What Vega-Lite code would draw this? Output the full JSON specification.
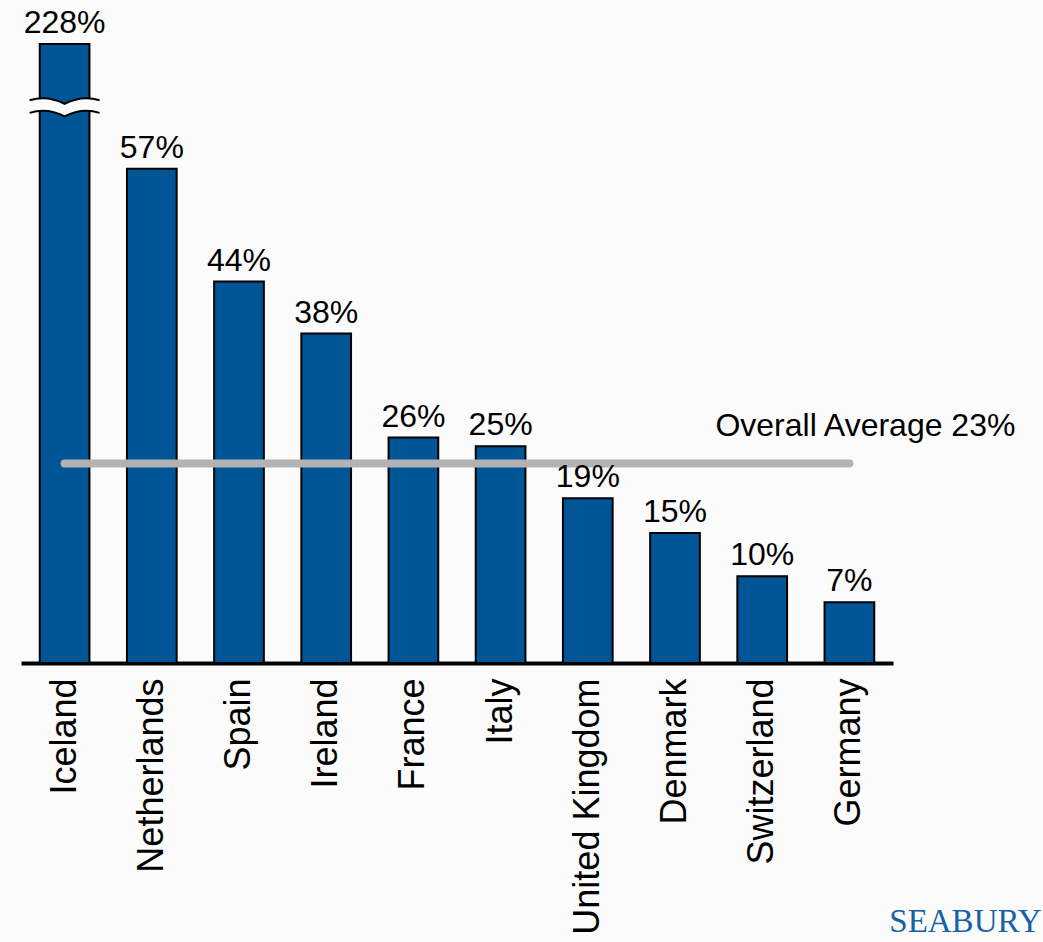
{
  "$schema": "https://vega.github.io/schema/vega-lite/v6.json",
  "width": 872,
  "height": 619,
  "autosize": "none",
  "padding": {"left": 21, "top": 44, "right": 150, "bottom": 279},
  "background": "#fbfbfb",
  "config": {
    "view": {"stroke": null},
    "font": "Liberation Sans"
  },
  "datasets": {
    "main": [
      {"country": "Iceland", "value": 2.28},
      {"country": "Netherlands", "value": 0.57},
      {"country": "Spain", "value": 0.44},
      {"country": "Ireland", "value": 0.38},
      {"country": "France", "value": 0.26},
      {"country": "Italy", "value": 0.25},
      {"country": "United Kingdom", "value": 0.19},
      {"country": "Denmark", "value": 0.15},
      {"country": "Switzerland", "value": 0.10},
      {"country": "Germany", "value": 0.07}
    ],
    "average": [
      {"country": "Iceland", "avg": 0.23, "label": "Overall Average 23%"},
      {"country": "Germany", "avg": 0.23, "label": "Overall Average 23%"}
    ],
    "brk": [
      {"country": "Iceland", "breakAt": 0.641}
    ]
  },
  "encoding": {
    "x": {
      "field": "country",
      "type": "nominal",
      "sort": null,
      "scale": {
        "domain": ["Iceland", "Netherlands", "Spain", "Ireland", "France", "Italy", "United Kingdom", "Denmark", "Switzerland", "Germany"],
        "paddingInner": 0.43,
        "paddingOuter": 0.215
      },
      "axis": {
        "title": "SEABURY",
        "titleFont": "Liberation Serif",
        "titleFontSize": 33,
        "titleFontWeight": "normal",
        "titleColor": "#1560a8",
        "titleAlign": "right",
        "titleAnchor": null,
        "titleBaseline": "top",
        "titleX": 1020,
        "titleY": 242,
        "labelAngle": -90,
        "labelAlign": "right",
        "labelBaseline": "middle",
        "labelFontSize": 36,
        "labelColor": "#000000",
        "labelPadding": 15,
        "labelLimit": 500,
        "ticks": false,
        "domainColor": "#000000",
        "domainWidth": 4,
        "grid": false
      }
    }
  },
  "layer": [
    {
      "data": {"name": "main"},
      "mark": {"type": "bar", "color": "#005596", "stroke": "#000000", "strokeWidth": 2},
      "encoding": {
        "y": {
          "field": "value",
          "type": "quantitative",
          "scale": {"domain": [0, 0.714], "clamp": true, "nice": false, "zero": true},
          "axis": null
        }
      }
    },
    {
      "data": {"name": "brk"},
      "mark": {
        "type": "point",
        "shape": "M-1,-0.2 Q-0.5,-0.36 0,-0.1 Q0.5,-0.36 1,-0.2 L1,0.16 Q0.5,0 0,0.26 Q-0.5,0 -1,0.16 Z",
        "filled": true,
        "fill": "#fbfbfb",
        "strokeWidth": 0,
        "opacity": 1,
        "size": 4900
      },
      "encoding": {
        "y": {"field": "breakAt", "type": "quantitative"}
      }
    },
    {
      "data": {"name": "brk"},
      "mark": {
        "type": "point",
        "shape": "M-1,-0.2 Q-0.5,-0.36 0,-0.1 Q0.5,-0.36 1,-0.2 M1,0.16 Q0.5,0 0,0.26 Q-0.5,0 -1,0.16",
        "filled": false,
        "stroke": "#000000",
        "strokeWidth": 2,
        "opacity": 1,
        "size": 4900
      },
      "encoding": {
        "y": {"field": "breakAt", "type": "quantitative"}
      }
    },
    {
      "data": {"name": "average"},
      "mark": {"type": "line", "color": "#b3b3b3", "strokeWidth": 8, "strokeCap": "round"},
      "encoding": {
        "y": {"field": "avg", "type": "quantitative"}
      }
    },
    {
      "data": {"name": "main"},
      "mark": {"type": "text", "baseline": "alphabetic", "dy": -11, "fontSize": 32, "color": "#000000"},
      "encoding": {
        "y": {"field": "value", "type": "quantitative"},
        "text": {"field": "value", "type": "quantitative", "format": ".0%"}
      }
    },
    {
      "data": {"name": "average"},
      "transform": [{"filter": "datum.country === 'Germany'"}],
      "mark": {"type": "text", "baseline": "alphabetic", "align": "center", "dx": 16, "dy": -28, "fontSize": 32, "color": "#000000"},
      "encoding": {
        "y": {"field": "avg", "type": "quantitative"},
        "text": {"field": "label", "type": "nominal"}
      }
    }
  ],
  "resolve": {"scale": {"y": "shared"}}
}
